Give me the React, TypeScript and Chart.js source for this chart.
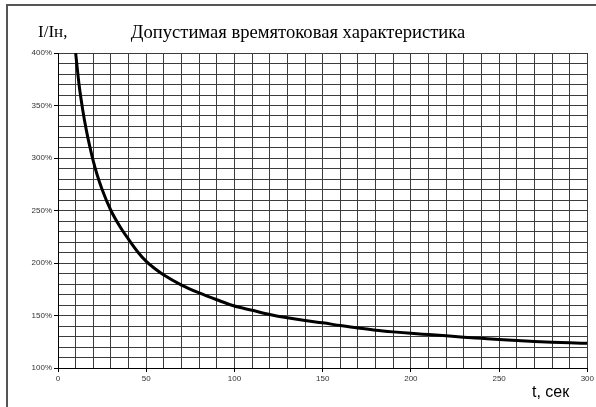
import React, { useEffect, useRef } from "react";
import { Chart, registerables } from "chart.js";

Chart.register(...registerables);

const timeSec = [10, 12, 14, 16, 18, 20, 22, 25, 30, 35, 40, 45, 50, 55, 60, 70, 80, 90, 100, 110, 120, 130, 140, 150, 160, 170, 180, 190, 200, 210, 220, 230, 240, 250, 260, 270, 280, 290, 300];
const currentRatio = [400, 369, 346, 327, 311, 297, 285, 270, 250, 235, 222.5, 211, 201.5, 194.5, 188.5, 179, 171.5, 165, 159, 155, 151, 147.8, 145.2, 143, 140.4, 138, 136, 134.4, 133, 131.8, 130.6, 129.4, 128.3, 127.2, 126.2, 125.3, 124.6, 124, 123.5];

const titleText = "Допустимая времятоковая характеристика";
const yAxisTitle = "I/Iн,";
const xAxisTitle = "t, сек";

const gridColor = "#3c3c3c";

const decorPlugin = {
  id: "decor",
  afterDraw(chart: any) {
    const ctx = chart.ctx;
    ctx.save();
    ctx.strokeStyle = "#555";
    ctx.lineWidth = 2;
    ctx.strokeRect(7, 5, 620, 450);
    ctx.fillStyle = "#000";
    ctx.textBaseline = "middle";
    ctx.font = "18.6px 'Liberation Serif'";
    ctx.textAlign = "center";
    ctx.fillText(titleText, 298, 33);
    ctx.font = "17px 'Liberation Serif'";
    ctx.textAlign = "left";
    ctx.fillText(yAxisTitle, 38, 33);
    ctx.font = "16px 'Liberation Sans'";
    ctx.fillText(xAxisTitle, 532, 393);
    ctx.restore();
  },
};

export default function App() {
  const ref = useRef<HTMLCanvasElement>(null);
  useEffect(() => {
    document.body.style.margin = "0";
    const data = timeSec.map((t, i) => ({ x: t, y: currentRatio[i] }));
    const chart = new Chart(ref.current as HTMLCanvasElement, {
      type: "line",
      data: {
        datasets: [
          {
            data,
            borderColor: "#000",
            borderWidth: 3,
            pointRadius: 0,
            cubicInterpolationMode: "monotone",
            fill: false,
          },
        ],
      },
      options: {
        animation: false,
        responsive: false,
        layout: { padding: { left: 0, top: 53, right: 7, bottom: 0 } },
        plugins: { legend: { display: false }, tooltip: { enabled: false } },
        scales: {
          x: {
            type: "linear",
            min: 0,
            max: 300,
            afterFit: (s: any) => {
              s.height = 39;
            },
            ticks: {
              stepSize: 10,
              autoSkip: false,
              maxRotation: 0,
              padding: 2,
              color: "#333",
              font: { family: "'Liberation Sans'", size: 8 },
              callback: (v: any) => (Number(v) % 50 === 0 ? String(v) : ""),
            },
            grid: {
              color: gridColor,
              lineWidth: 1,
              tickLength: 4,
              tickColor: (c: any) => (c.tick && c.tick.value % 50 === 0 ? "#000" : "rgba(0,0,0,0)"),
            },
            border: { color: "#000" },
          },
          y: {
            type: "linear",
            min: 100,
            max: 400,
            afterFit: (s: any) => {
              s.width = 58;
            },
            ticks: {
              stepSize: 10,
              autoSkip: false,
              padding: 2,
              color: "#333",
              font: { family: "'Liberation Sans'", size: 8 },
              callback: (v: any) => (Number(v) % 50 === 0 ? v + "%" : ""),
            },
            grid: {
              color: gridColor,
              lineWidth: 1,
              tickLength: 4,
              tickColor: (c: any) => (c.tick && c.tick.value % 50 === 0 ? "#000" : "rgba(0,0,0,0)"),
            },
            border: { color: "#000" },
          },
        },
      } as any,
      plugins: [decorPlugin],
    });
    return () => chart.destroy();
  }, []);
  return <canvas ref={ref} width={596} height={407} style={{ display: "block" }} />;
}
